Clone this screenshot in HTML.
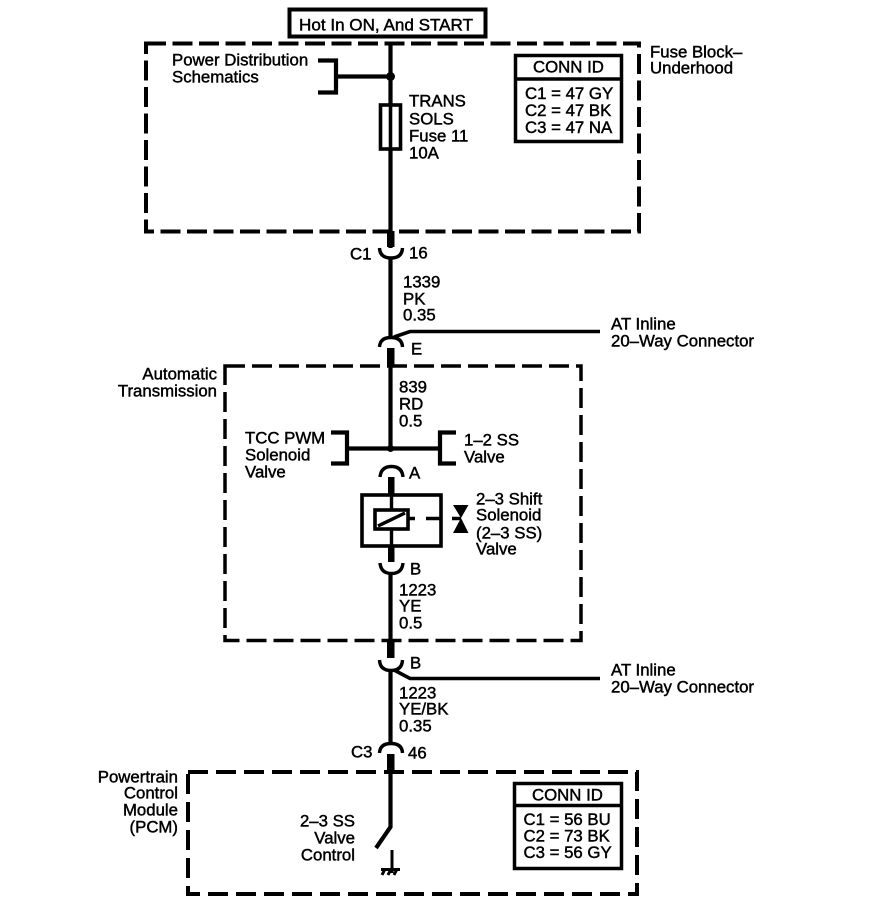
<!DOCTYPE html>
<html><head><meta charset="utf-8"><style>
html,body{margin:0;padding:0;background:#fff}
svg{display:block}
text{font-family:"Liberation Sans",sans-serif;font-size:16.8px;fill:#000;stroke:#000;stroke-width:.45;transform:translateY(.5px)}
.e{text-anchor:end}.m{text-anchor:middle}
</style></head><body>
<svg width="896" height="920" viewBox="0 0 896 920" xmlns="http://www.w3.org/2000/svg">
<g fill="none" stroke="#000" stroke-width="4">
<rect x="146" y="43.500" width="493" height="188" stroke-dasharray="20 6.500"/>
<rect x="225" y="366" width="356" height="274.500" stroke-width="3.500" stroke-dasharray="20 7"/>
<rect x="188" y="772" width="449" height="122" stroke-dasharray="20 8"/>
</g>
<rect x="289.500" y="9.500" width="196" height="27" fill="#fff" stroke="#000" stroke-width="4"/>
<text x="299" y="30" textLength="174" lengthAdjust="spacingAndGlyphs">Hot In ON, And START</text>
<g fill="none" stroke="#000" stroke-width="4.200">
<path d="M390.500 43V248M390.500 258V338M390.500 365V449M390.500 574V640M390.500 671V743M390.500 771V827L376 848"/>
<path d="M318 60.500H336V92.500H318M336 76.500H390"/>
<rect x="380.500" y="105" width="20" height="44" fill="#fff" stroke-width="3.600"/>
<path d="M390.500 105V149" stroke-width="3.600"/>
<path d="M331 432.500H347V463.500H331M347 448.500H440M456 432.500H440V463.500H456"/>
<path d="M379.500 248Q380 258 391 258Q402 258 402.500 248" stroke-width="3.400"/>
<path d="M379.500 347Q380 337.500 391 337.500Q402 337.500 402.500 347" stroke-width="3.400"/>
<path d="M380 477Q381 466.500 391.500 466.500Q402 466.500 403 477" stroke-width="3.400"/>
<path d="M380 563Q381 573.500 391.500 573.500Q402 573.500 403 563" stroke-width="3.400"/>
<path d="M379.500 660Q380 670.500 391 670.500Q402 670.500 402.500 660" stroke-width="3.400"/>
<path d="M379.500 753Q380 743.500 391 743.500Q402 743.500 402.500 753" stroke-width="3.400"/>
<path d="M394 337L410 331.500H600" stroke-width="3.600"/>
<path d="M394 670L410 678.500H600" stroke-width="3.600"/>
<rect x="362" y="495" width="79" height="51" stroke-width="3.600"/>
<path d="M391.500 495V546" stroke-width="3.400"/>
<rect x="375" y="510" width="33" height="19" fill="#fff" stroke-width="3.600"/>
<path d="M378 526L405 513M408 518.500H415M426 518.500H441M452 518.500H461" stroke-width="3.400"/>
<path d="M392 850V873M381 869.500H400M385 869L382 875M391 869L388 875M397 869L394 875" stroke-width="3"/>
</g>
<circle cx="390.500" cy="76.500" r="4.500" fill="#000"/>
<circle cx="390.500" cy="448.500" r="3.500" fill="#000"/>
<g fill="#000">
<rect x="387" y="231" width="7.500" height="16"/>
<rect x="387" y="348" width="7.500" height="18"/>
<rect x="388" y="477" width="6.500" height="18"/>
<rect x="388" y="546" width="6.500" height="16"/>
<rect x="387" y="640" width="7.500" height="18"/>
<rect x="387" y="754" width="7.500" height="17"/>
<path d="M453 505H468.500L461 518L468.500 533H453L461 518Z"/>
</g>
<text x="172" y="65">Power Distribution</text>
<text x="172" y="82">Schematics</text>
<text x="409" y="106">TRANS</text>
<text x="409" y="124">SOLS</text>
<text x="409" y="141">Fuse 11</text>
<text x="409" y="158">10A</text>
<text x="650" y="57">Fuse Block–</text>
<text x="650" y="73">Underhood</text>
<rect x="515.500" y="55.500" width="106" height="86" fill="#fff" stroke="#000" stroke-width="3.500"/>
<path d="M515.500 79H621.500" stroke="#000" stroke-width="3.500"/>
<text x="533" y="72">CONN ID</text>
<text x="525" y="98.500">C1 = 47 GY</text>
<text x="525" y="115.500">C2 = 47 BK</text>
<text x="525" y="132.500">C3 = 47 NA</text>
<text x="350" y="259">C1</text>
<text x="409" y="258">16</text>
<text x="403" y="287">1339</text>
<text x="403" y="304">PK</text>
<text x="403" y="320">0.35</text>
<text x="411" y="354">E</text>
<text x="611" y="329">AT Inline</text>
<text x="611" y="346">20–Way Connector</text>
<text x="217" y="379" class="e">Automatic</text>
<text x="217" y="396" class="e">Transmission</text>
<text x="399" y="392">839</text>
<text x="399" y="409">RD</text>
<text x="399" y="426">0.5</text>
<text x="245" y="443">TCC PWM</text>
<text x="245" y="460">Solenoid</text>
<text x="245" y="477">Valve</text>
<text x="464" y="445">1–2 SS</text>
<text x="464" y="462">Valve</text>
<text x="409" y="478">A</text>
<text x="476" y="504">2–3 Shift</text>
<text x="476" y="520">Solenoid</text>
<text x="476" y="538">(2–3 SS)</text>
<text x="476" y="554">Valve</text>
<text x="410" y="574">B</text>
<text x="399" y="595">1223</text>
<text x="399" y="611">YE</text>
<text x="399" y="628">0.5</text>
<text x="410" y="668">B</text>
<text x="611" y="675">AT Inline</text>
<text x="611" y="692">20–Way Connector</text>
<text x="399" y="698">1223</text>
<text x="399" y="714">YE/BK</text>
<text x="399" y="731">0.35</text>
<text x="351" y="757">C3</text>
<text x="408" y="758">46</text>
<text x="178" y="782" class="e">Powertrain</text>
<text x="178" y="798" class="e">Control</text>
<text x="178" y="815" class="e">Module</text>
<text x="178" y="832" class="e">(PCM)</text>
<text x="355" y="826" class="e">2–3 SS</text>
<text x="355" y="843" class="e">Valve</text>
<text x="355" y="860" class="e">Control</text>
<rect x="514.500" y="783.500" width="107" height="85" fill="#fff" stroke="#000" stroke-width="3.500"/>
<path d="M514.500 805.500H621.500" stroke="#000" stroke-width="3.500"/>
<text x="532" y="800">CONN ID</text>
<text x="523.500" y="824.500">C1 = 56 BU</text>
<text x="523.500" y="841">C2 = 73 BK</text>
<text x="523.500" y="857.500">C3 = 56 GY</text>
</svg>
</body></html>
